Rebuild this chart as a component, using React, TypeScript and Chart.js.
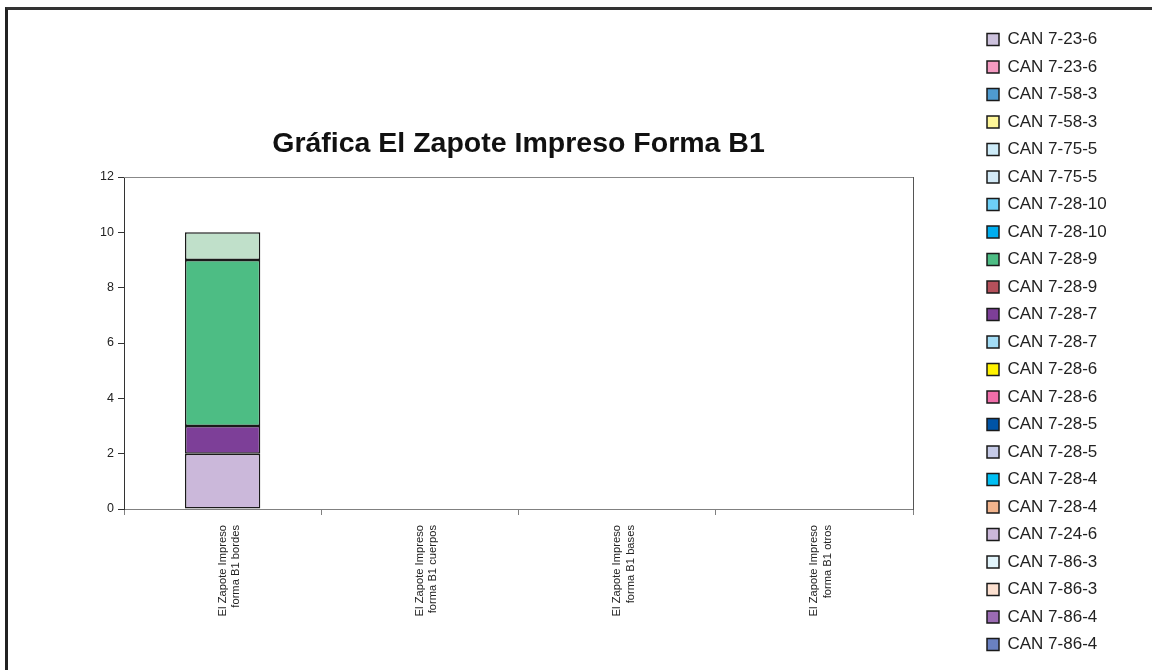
import React, { useEffect, useRef } from "react";
import { Chart, registerables } from "chart.js";

Chart.register(...registerables);

const W = 1152;
const H = 670;
const FONT = "'Liberation Sans', Arial, Helvetica, sans-serif";

const chartTitle = "Gráfica El Zapote Impreso Forma B1";

const categories = [
  ["El Zapote Impreso", "forma B1 bordes"],
  ["El Zapote Impreso", "forma B1 cuerpos"],
  ["El Zapote Impreso", "forma B1 bases"],
  ["El Zapote Impreso", "forma B1 otros"],
];

// Series in legend order (top to bottom); the first one is the unnamed top segment not shown in the legend
const seriesLabels = [
  "",
  "CAN 7-23-6",
  "CAN 7-23-6",
  "CAN 7-58-3",
  "CAN 7-58-3",
  "CAN 7-75-5",
  "CAN 7-75-5",
  "CAN 7-28-10",
  "CAN 7-28-10",
  "CAN 7-28-9",
  "CAN 7-28-9",
  "CAN 7-28-7",
  "CAN 7-28-7",
  "CAN 7-28-6",
  "CAN 7-28-6",
  "CAN 7-28-5",
  "CAN 7-28-5",
  "CAN 7-28-4",
  "CAN 7-28-4",
  "CAN 7-24-6",
  "CAN 7-86-3",
  "CAN 7-86-3",
  "CAN 7-86-4",
  "CAN 7-86-4",
];

const seriesColors = [
  "#C0E0CA",
  "#CCC1DC",
  "#F49AC1",
  "#4F9BD0",
  "#FFF799",
  "#CDEBF8",
  "#D2E9F6",
  "#6DCFF6",
  "#00AEEF",
  "#4DBD84",
  "#B5505B",
  "#7D3F98",
  "#A3DDF6",
  "#FFF200",
  "#F06EAA",
  "#0054A6",
  "#C5CAE7",
  "#00BFF3",
  "#F2B48D",
  "#CBB8DA",
  "#E1F4FB",
  "#FCE0D0",
  "#9B6BB3",
  "#6A81C2",
];

// Values per category, aligned with seriesLabels
const bordes = [1, null, null, null, null, null, null, null, null, 6, null, 1, null, null, null, null, null, null, null, 2, null, null, null, null];
const cuerpos = [null, null, null, null, null, null, null, null, null, null, null, null, null, null, null, null, null, null, null, null, null, null, null, null];
const bases = [null, null, null, null, null, null, null, null, null, null, null, null, null, null, null, null, null, null, null, null, null, null, null, null];
const otros = [null, null, null, null, null, null, null, null, null, null, null, null, null, null, null, null, null, null, null, null, null, null, null, null];

const yMin = 0;
const yMax = 12;
const yStep = 2;

export default function App() {
  const canvasRef = useRef<HTMLCanvasElement | null>(null);

  useEffect(() => {
    const canvas = canvasRef.current;
    if (!canvas) return;
    Chart.defaults.font.family = FONT;

    // layout targets
    const plotLeft = 124;
    const plotRight = 913;
    const plotBottom = 509;
    const legendItemX = 987;
    const legendPad = 10.5;
    const legendFont = 17;
    const legendBox = 12;
    const padBottom = 6.5;

    const ctx = canvas.getContext("2d")!;
    ctx.font = `normal ${legendFont}px ${FONT}`;
    const maxText = Math.max(
      ...seriesLabels.filter((t) => t !== "").map((t) => ctx.measureText(t).width)
    );
    const legendW = legendPad + (legendBox + legendFont / 2 + maxText) + 10;
    const legendLeft = legendItemX - legendPad;
    const padRight = W - legendLeft - legendW;
    const gap = legendLeft - plotRight;

    const n = seriesLabels.length;
    const datasets = [] as any[];
    for (let k = n - 1; k >= 0; k--) {
      datasets.push({
        label: seriesLabels[k],
        data: [bordes[k], cuerpos[k], bases[k], otros[k]],
        backgroundColor: seriesColors[k],
        borderColor: "#1a1a1a",
        borderWidth: 1.5,
        borderSkipped: false,
        inflateAmount: 0,
        barPercentage: 0.382,
        categoryPercentage: 1,
        xAxisID: "x",
        yAxisID: "y",
      });
    }

    const chart = new Chart(canvas, {
      type: "bar",
      data: { labels: categories as any, datasets },
      options: {
        responsive: false,
        animation: false,
        maintainAspectRatio: false,
        layout: { padding: { left: 0, top: 0, right: padRight, bottom: padBottom } },
        plugins: {
          title: {
            display: true,
            text: chartTitle,
            fullSize: false,
            color: "#111111",
            font: { size: 28.5, weight: "bold", family: FONT, lineHeight: 1.2 },
            padding: { top: 127.5, bottom: 15.3 },
          },
          legend: {
            display: true,
            position: "right",
            align: "end",
            reverse: true,
            labels: {
              boxWidth: legendBox,
              boxHeight: legendBox,
              padding: legendPad,
              color: "#222222",
              font: { size: legendFont, family: FONT },
              filter: (item: any) => item.text !== "",
            },
          },
          tooltip: { enabled: false },
        },
        scales: {
          x: {
            stacked: true,
            position: "bottom",
            grid: { display: true, drawOnChartArea: false, drawTicks: true, tickLength: 6, color: "#808080", offset: true },
            border: { display: true, color: "#808080", width: 1 },
            ticks: {
              minRotation: 90,
              maxRotation: 90,
              autoSkip: false,
              padding: 10,
              color: "#222222",
              font: { size: 11.2, family: FONT, lineHeight: 1.2 },
            },
            afterFit: (s: any) => {
              s.height = H - padBottom - plotBottom;
            },
          },
          y: {
            stacked: true,
            position: "left",
            min: yMin,
            max: yMax,
            ticks: { stepSize: yStep, padding: 4, color: "#222222", font: { size: 12.5, family: FONT } },
            grid: { drawOnChartArea: false, drawTicks: true, tickLength: 6, color: "#333333" },
            border: { display: true, color: "#333333", width: 1 },
            afterFit: (s: any) => {
              s.width = plotLeft;
            },
          },
          xTop: {
            type: "linear",
            position: "top",
            display: true,
            ticks: { display: false },
            grid: { display: false },
            border: { display: true, color: "#888888", width: 1 },
            afterFit: (s: any) => {
              s.height = 0;
            },
          },
          yRight: {
            type: "linear",
            position: "right",
            display: true,
            ticks: { display: false },
            grid: { display: false },
            border: { display: true, color: "#555555", width: 1 },
            afterFit: (s: any) => {
              s.width = gap;
            },
          },
        },
      } as any,
    });

    return () => chart.destroy();
  }, []);

  return (
    <div style={{ position: "fixed", left: 0, top: 0, width: W, height: H, overflow: "hidden", background: "#ffffff" }}>
      <canvas
        ref={canvasRef}
        width={W}
        height={H}
        style={{ position: "absolute", left: 0, top: 0, width: W, height: H, display: "block" }}
      />
      <div
        style={{
          position: "absolute",
          left: 5,
          top: 7,
          width: 1400,
          height: 900,
          borderLeft: "3px solid #222222",
          borderTop: "3px solid #333333",
          pointerEvents: "none",
        }}
      />
    </div>
  );
}
